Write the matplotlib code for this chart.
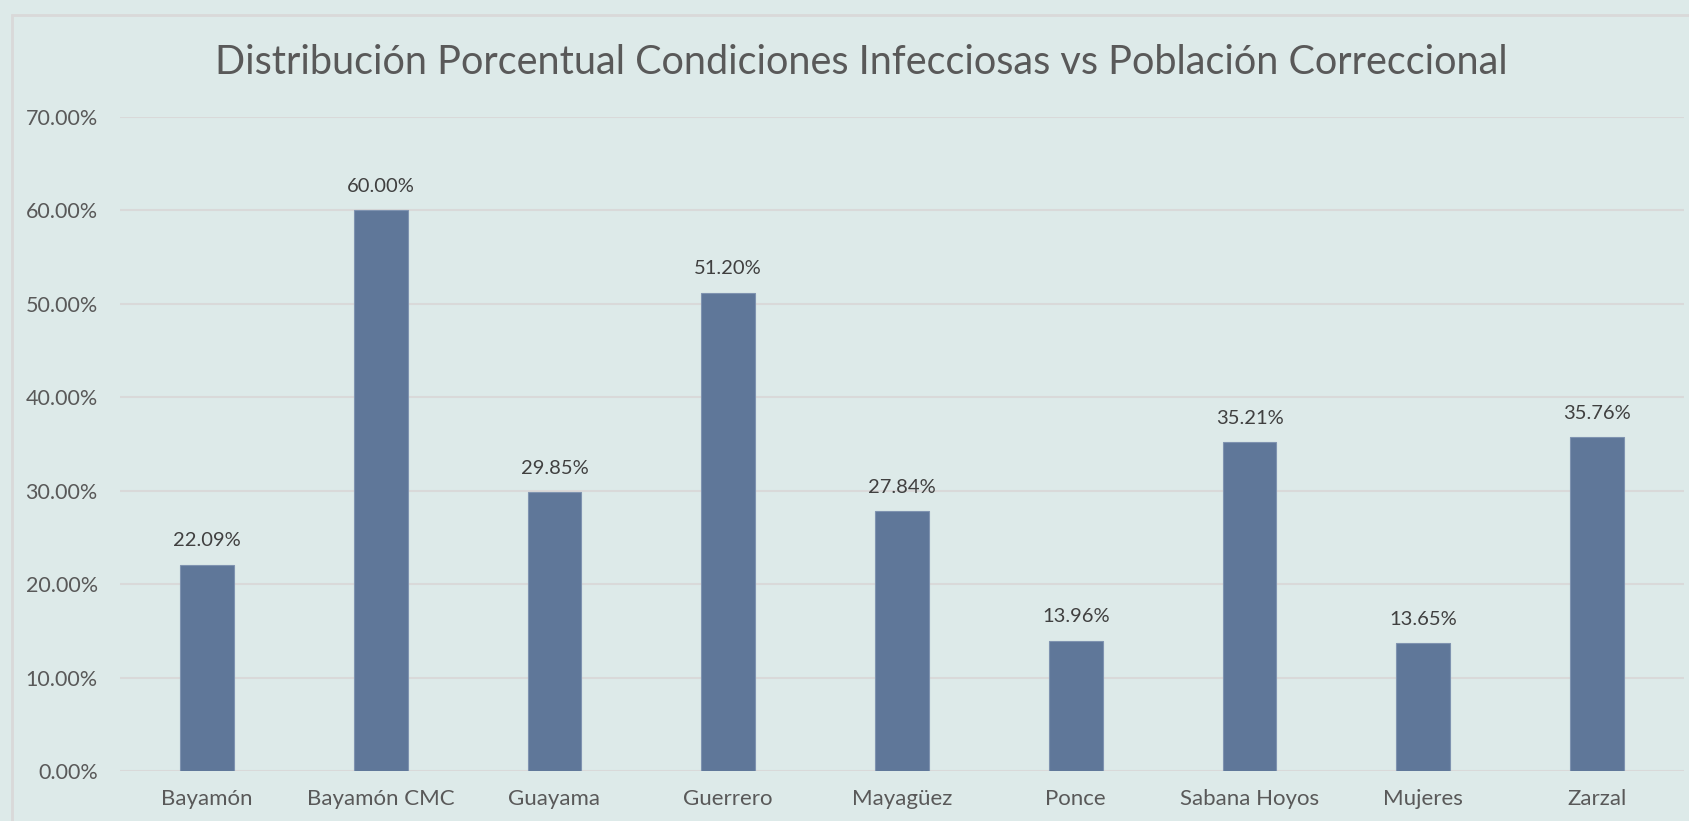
import matplotlib
matplotlib.use("Agg")
import matplotlib.pyplot as plt
from matplotlib.patches import Rectangle

categories = ["Bayamón", "Bayamón CMC", "Guayama", "Guerrero", "Mayagüez",
              "Ponce", "Sabana Hoyos", "Mujeres", "Zarzal"]
values = [22.09, 60.00, 29.85, 51.20, 27.84, 13.96, 35.21, 13.65, 35.76]
yticks = [0, 10, 20, 30, 40, 50, 60, 70]
title = "Distribución Porcentual Condiciones Infecciosas vs Población Correccional"

BG = "#DDEAE9"
BAR = "#5F7799"
TXT = "#595959"
GRID = "#D9D9D9"

plt.rcParams['font.family'] = ['Lato', 'DejaVu Sans']

W, H = 1690, 821
fig = plt.figure(figsize=(W / 100, H / 100), dpi=100)
fig.patch.set_facecolor(BG)

# outer chart border (extends past right and bottom edges)
fig.patches.append(Rectangle((12 / W, -0.2), 2, 1.2 - 15 / H, transform=fig.transFigure,
                             fill=False, edgecolor=GRID, linewidth=2))

left, right, top, bottom = 120, 1684, 117, 771
ax = fig.add_axes([left / W, (H - bottom) / H, (right - left) / W, (bottom - top) / H])
ax.set_facecolor(BG)

x = list(range(len(categories)))
bars = ax.bar(x, values, width=0.31, color=BAR, edgecolor="#7F93B0", linewidth=0.8, zorder=3)
ax.set_xlim(-0.5, len(categories) - 0.5)
ax.set_ylim(0, 70)
ax.set_yticks(yticks)
ax.set_yticklabels([f"{t:.2f}%" for t in yticks])
ax.set_xticks(x)
ax.set_xticklabels(categories)
ax.grid(axis="y", color=GRID, linewidth=1.5, zorder=0)
for s in ax.spines.values():
    s.set_visible(False)
ax.tick_params(axis="both", length=0, colors=TXT)
ax.tick_params(axis="y", pad=16, labelsize=15.5)
ax.tick_params(axis="x", pad=13, labelsize=16)

for b, v in zip(bars, values):
    ax.annotate(f"{v:.2f}%", (b.get_x() + b.get_width() / 2, v), xytext=(0, 11),
                textcoords="offset points", ha="center", va="bottom",
                fontsize=14.5, color="#404040")

fig.text(861 / W, 1 - 63 / H, title, ha="center", va="center", fontsize=28.5,
         color=TXT)

fig.savefig("out.png", dpi=100, facecolor=BG)
